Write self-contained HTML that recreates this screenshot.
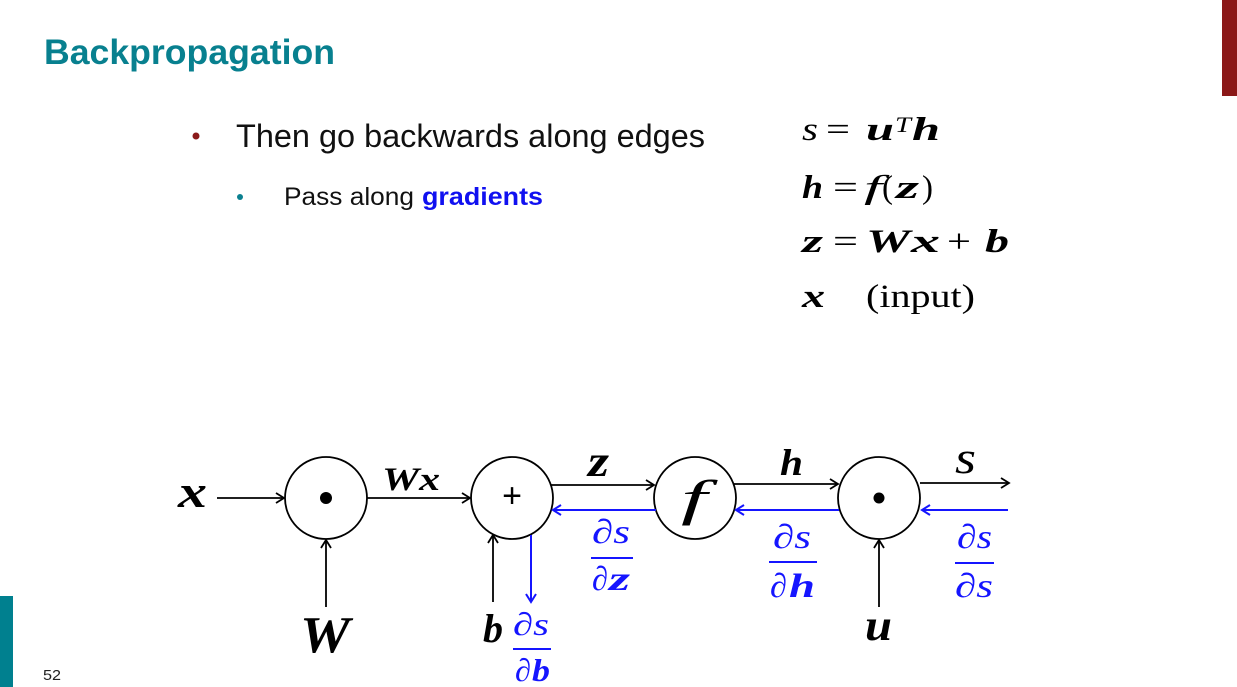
<!DOCTYPE html>
<html><head><meta charset="utf-8"><style>
html,body{margin:0;padding:0;background:#fff;}
svg{display:block;}
.sans{font-family:"Liberation Sans",sans-serif;}
.m{font-family:"Liberation Serif",serif;font-style:italic;}
.mb{font-family:"Liberation Serif",serif;font-style:italic;font-weight:bold;}
.r{font-family:"Liberation Serif",serif;}
</style></head><body>
<svg width="1237" height="687" viewBox="0 0 1237 687" xmlns="http://www.w3.org/2000/svg">
<rect x="0" y="0" width="1237" height="687" fill="#fff"/>
<rect x="1222" y="0" width="15" height="96" fill="#8B1818"/>
<rect x="0" y="596" width="13" height="91" fill="#00808F"/>
<text x="43" y="680" class="sans" font-size="15" fill="#222" textLength="18" lengthAdjust="spacingAndGlyphs">52</text>

<text x="44" y="64" class="sans" font-size="35.5" font-weight="bold" fill="#08808F" textLength="291" lengthAdjust="spacingAndGlyphs">Backpropagation</text>

<circle cx="196" cy="136" r="3.5" fill="#8B1A1A"/>
<text x="236" y="147" class="sans" font-size="32" fill="#111" textLength="469" lengthAdjust="spacingAndGlyphs">Then go backwards along edges</text>
<circle cx="240" cy="197" r="3" fill="#0B8090"/>
<text x="284" y="205" class="sans" font-size="25" fill="#111" textLength="130" lengthAdjust="spacingAndGlyphs">Pass along</text>
<text x="422" y="205" class="sans" font-size="25" font-weight="bold" fill="#1010F0" textLength="121" lengthAdjust="spacingAndGlyphs">gradients</text>

<!-- equations -->
<g fill="#000">
<text x="802" y="140" class="m" font-size="33" textLength="16" lengthAdjust="spacingAndGlyphs">s</text>
<text x="826" y="140" class="r" font-size="33" textLength="24" lengthAdjust="spacingAndGlyphs">=</text>
<text x="866" y="140" class="mb" font-size="33" textLength="28" lengthAdjust="spacingAndGlyphs">u</text>
<text x="895" y="132" class="m" font-size="22" textLength="16" lengthAdjust="spacingAndGlyphs">T</text>
<text x="912" y="140" class="mb" font-size="33" textLength="28" lengthAdjust="spacingAndGlyphs">h</text>

<text x="802" y="198" class="mb" font-size="33" textLength="21" lengthAdjust="spacingAndGlyphs">h</text>
<text x="833" y="198" class="r" font-size="33" textLength="25" lengthAdjust="spacingAndGlyphs">=</text>
<text x="864" y="198" class="m" font-size="33" textLength="18" lengthAdjust="spacingAndGlyphs">f</text>
<text x="882" y="198" class="r" font-size="33" textLength="11" lengthAdjust="spacingAndGlyphs">(</text>
<text x="896" y="198" class="mb" font-size="33" textLength="23" lengthAdjust="spacingAndGlyphs">z</text>
<text x="922" y="198" class="r" font-size="33" textLength="11" lengthAdjust="spacingAndGlyphs">)</text>

<text x="802" y="252" class="mb" font-size="33" textLength="21" lengthAdjust="spacingAndGlyphs">z</text>
<text x="833" y="252" class="r" font-size="33" textLength="25" lengthAdjust="spacingAndGlyphs">=</text>
<text x="866" y="252" class="mb" font-size="33" textLength="44" lengthAdjust="spacingAndGlyphs">W</text>
<text x="911" y="252" class="mb" font-size="33" textLength="29" lengthAdjust="spacingAndGlyphs">x</text>
<text x="947" y="252" class="r" font-size="33" textLength="24" lengthAdjust="spacingAndGlyphs">+</text>
<text x="985" y="252" class="mb" font-size="33" textLength="24" lengthAdjust="spacingAndGlyphs">b</text>

<text x="802" y="307" class="mb" font-size="33" textLength="23" lengthAdjust="spacingAndGlyphs">x</text>
<text x="866" y="307" class="r" font-size="33" textLength="109" lengthAdjust="spacingAndGlyphs">(input)</text>
</g>

<!-- diagram -->
<g fill="none" stroke="#000" stroke-width="1.8">
<circle cx="326" cy="498" r="41"/>
<circle cx="512" cy="498" r="41"/>
<circle cx="695" cy="498" r="41"/>
<circle cx="879" cy="498" r="41"/>
<line x1="217" y1="498" x2="283" y2="498"/>
<polyline points="276,493 284,498 276,503"/>
<line x1="367" y1="498" x2="469" y2="498"/>
<polyline points="462,493 470,498 462,503"/>
<line x1="326" y1="607" x2="326" y2="541"/>
<polyline points="321,548 326,540 331,548"/>
<line x1="493" y1="602" x2="493" y2="536"/>
<polyline points="488,543 493,535 498,543"/>
<line x1="551" y1="485" x2="653" y2="485"/>
<polyline points="646,480 654,485 646,490"/>
<line x1="734" y1="484" x2="837" y2="484"/>
<polyline points="830,479 838,484 830,489"/>
<line x1="920" y1="483" x2="1008" y2="483"/>
<polyline points="1001,478 1009,483 1001,488"/>
<line x1="879" y1="607" x2="879" y2="541"/>
<polyline points="874,548 879,540 884,548"/>
</g>
<circle cx="326" cy="498" r="6" fill="#000"/>
<circle cx="879" cy="498" r="5.5" fill="#000"/>
<text x="512" y="507" text-anchor="middle" class="sans" font-size="34" fill="#000">+</text>
<text x="681" y="515" class="m" font-size="50" fill="#000" textLength="26" lengthAdjust="spacingAndGlyphs">f</text>

<!-- blue arrows -->
<g fill="none" stroke="#1515FF" stroke-width="2">
<line x1="531" y1="535" x2="531" y2="601"/>
<polyline points="526,594 531,602 536,594"/>
<line x1="656" y1="510" x2="554" y2="510"/>
<polyline points="561,505 553,510 561,515"/>
<line x1="839" y1="510" x2="737" y2="510"/>
<polyline points="744,505 736,510 744,515"/>
<line x1="1008" y1="510" x2="923" y2="510"/>
<polyline points="930,505 922,510 930,515"/>
<line x1="591" y1="558" x2="633" y2="558"/>
<line x1="769" y1="562" x2="817" y2="562"/>
<line x1="955" y1="563" x2="994" y2="563"/>
<line x1="513" y1="649" x2="551" y2="649"/>
</g>

<!-- black labels -->
<g fill="#000">
<text x="178" y="507" class="mb" font-size="46" textLength="29" lengthAdjust="spacingAndGlyphs">x</text>
<text x="382" y="490" class="mb" font-size="33" textLength="58" lengthAdjust="spacingAndGlyphs">Wx</text>
<text x="300" y="652" class="mb" font-size="52" textLength="50" lengthAdjust="spacingAndGlyphs">W</text>
<text x="483" y="642" class="mb" font-size="40" textLength="20" lengthAdjust="spacingAndGlyphs">b</text>
<text x="588" y="476" class="mb" font-size="44" textLength="21" lengthAdjust="spacingAndGlyphs">z</text>
<text x="780" y="475" class="mb" font-size="37" textLength="23" lengthAdjust="spacingAndGlyphs">h</text>
<text x="955" y="473" class="m" font-size="46" textLength="21" lengthAdjust="spacingAndGlyphs">s</text>
<text x="865" y="640" class="mb" font-size="44" textLength="27" lengthAdjust="spacingAndGlyphs">u</text>
</g>

<!-- blue fraction labels -->
<g fill="#1515FF">
<text x="592" y="543" class="m" font-size="34" textLength="38" lengthAdjust="spacingAndGlyphs">∂s</text>
<text x="592" y="590" class="m" font-size="34" textLength="16" lengthAdjust="spacingAndGlyphs">∂</text>
<text x="609" y="590" class="mb" font-size="34" textLength="21" lengthAdjust="spacingAndGlyphs">z</text>

<text x="773" y="548" class="m" font-size="34" textLength="38" lengthAdjust="spacingAndGlyphs">∂s</text>
<text x="770" y="597" class="m" font-size="34" textLength="17" lengthAdjust="spacingAndGlyphs">∂</text>
<text x="789" y="597" class="mb" font-size="34" textLength="26" lengthAdjust="spacingAndGlyphs">h</text>

<text x="957" y="548" class="m" font-size="34" textLength="35" lengthAdjust="spacingAndGlyphs">∂s</text>
<text x="955" y="597" class="m" font-size="34" textLength="38" lengthAdjust="spacingAndGlyphs">∂s</text>

<text x="513" y="635" class="m" font-size="32" textLength="36" lengthAdjust="spacingAndGlyphs">∂s</text>
<text x="515" y="681" class="m" font-size="32" textLength="16" lengthAdjust="spacingAndGlyphs">∂</text>
<text x="532" y="681" class="mb" font-size="32" textLength="18" lengthAdjust="spacingAndGlyphs">b</text>
</g>
</svg>
</body></html>
